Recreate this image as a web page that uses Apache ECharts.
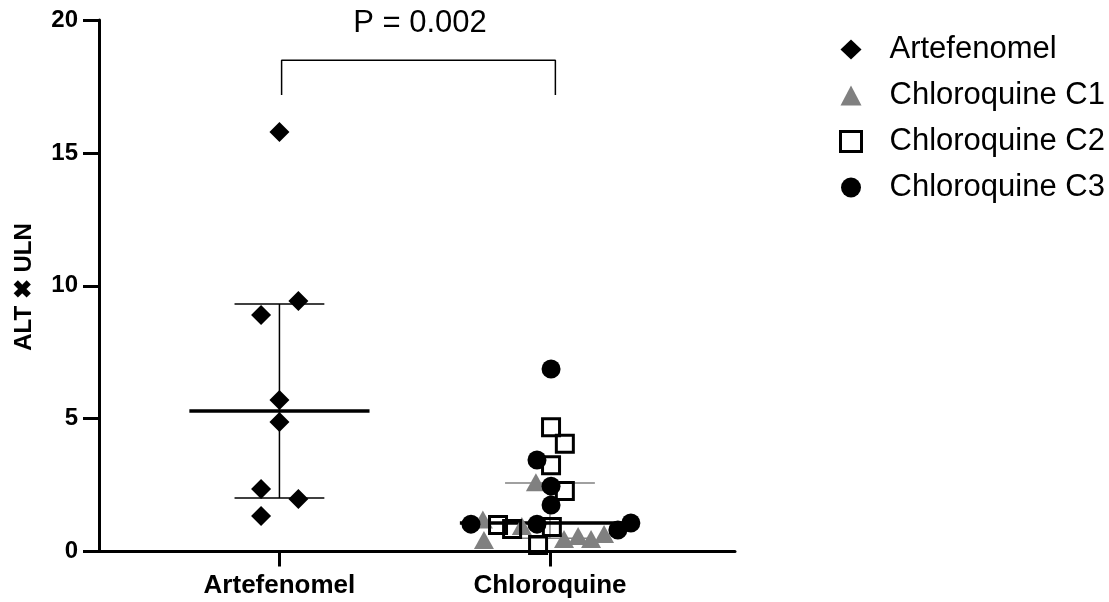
<!DOCTYPE html>
<html><head><meta charset="utf-8">
<script src="https://cdn.jsdelivr.net/npm/echarts@6/dist/echarts.min.js"></script>
<style>html,body{margin:0;padding:0;background:#fff}#c{width:1109px;height:602px}</style>
</head><body><div id="c"></div>
<script>
const categories = ['Artefenomel', 'Chloroquine'];
const seriesNames = ['Artefenomel', 'Chloroquine C1', 'Chloroquine C2', 'Chloroquine C3'];
const yTicks = [0, 5, 10, 15, 20];
// x offsets (jitter, in category units) and y values
const artefenomelX = [0, 0.07, -0.068, 0, 0, -0.068, 0.07, -0.068];
const artefenomelY = [15.79, 9.43, 8.90, 5.70, 4.87, 2.35, 1.98, 1.34];
const c1X = [-0.052, -0.248, -0.244, -0.104, 0.052, 0.104, 0.152, 0.2];
const c1Y = [2.61, 1.2, 0.43, 0.96, 0.47, 0.58, 0.47, 0.66];
const c2X = [0.004, 0.055, 0.004, 0.055, -0.192, -0.14, 0.007, -0.044];
const c2Y = [4.68, 4.05, 3.25, 2.28, 1.0, 0.85, 0.92, 0.24];
const c3X = [0.004, -0.048, 0.004, 0.004, -0.292, -0.048, 0.251, 0.299];
const c3Y = [6.87, 3.44, 2.46, 1.75, 1.03, 1.03, 0.81, 1.07];
const medians = [5.29, 1.07];
const lowerQ = [2.01, 0.5];
const upperQ = [9.31, 2.58];
const bracketLow = 17.18, bracketHigh = 18.49;
const pLabel = 'P = 0.002';

const FONT = '"Liberation Sans", Arial, sans-serif';
const chart = echarts.init(document.getElementById('c'), null, {renderer: 'canvas'});

function pts(center, xs, ys) { return ys.map((y, i) => [center + xs[i], y]); }
function seg(data, color, width) {
  return {type: 'line', data: data, symbol: 'none', silent: true, z: 1,
    lineStyle: {color: color, width: width}, animation: false};
}
const lineSeries = [];
const errColors = ['#000', '#808080'];
categories.forEach((c, i) => {
  const xc = i + 1;
  lineSeries.push(seg([[xc, lowerQ[i]], [xc, upperQ[i]]], errColors[i], 1.5));
  lineSeries.push(seg([[xc - 0.166, lowerQ[i]], [xc + 0.166, lowerQ[i]]], errColors[i], 1.5));
  lineSeries.push(seg([[xc - 0.166, upperQ[i]], [xc + 0.166, upperQ[i]]], errColors[i], 1.5));
  lineSeries.push(seg([[xc - 0.333, medians[i]], [xc + 0.333, medians[i]]], '#000', 3.5));
});
lineSeries.push(seg([[1.008, bracketLow], [1.008, bracketHigh], [2.02, bracketHigh], [2.02, bracketLow]], '#000', 1.5));

const scatter = [
  {name: seriesNames[0], type: 'scatter', data: pts(1, artefenomelX, artefenomelY), symbol: 'diamond', symbolSize: 20,
    itemStyle: {color: '#000', opacity: 1}, z: 5},
  {name: seriesNames[1], type: 'scatter', data: pts(2, c1X, c1Y), symbol: 'triangle', symbolSize: [20, 18],
    itemStyle: {color: '#808080', opacity: 1}, z: 5},
  {name: seriesNames[2], type: 'scatter', data: pts(2, c2X, c2Y), symbol: 'rect', symbolSize: 17,
    itemStyle: {color: 'rgba(0,0,0,0)', borderColor: '#000', borderWidth: 3, opacity: 1}, z: 5},
  {name: seriesNames[3], type: 'scatter', data: pts(2, c3X, c3Y), symbol: 'circle', symbolSize: 19,
    itemStyle: {color: '#000', opacity: 1}, z: 5}
];

chart.setOption({
  animation: false,
  backgroundColor: '#fff',
  grid: {left: 99, right: 374, top: 20, bottom: 50.5, containLabel: false},
  xAxis: {
    type: 'value', min: 0.333, max: 2.684, splitLine: {show: false},
    axisLine: {show: true, lineStyle: {color: '#000', width: 3}},
    axisTick: {show: true, customValues: [1, 2], length: 15, lineStyle: {color: '#000', width: 3}},
    axisLabel: {customValues: [1, 2], formatter: v => categories[Math.round(v) - 1], margin: 21,
      fontSize: 26, fontWeight: 'bold', color: '#000', fontFamily: FONT}
  },
  yAxis: {
    type: 'value', min: yTicks[0], max: yTicks[yTicks.length - 1], interval: 5, splitLine: {show: false},
    axisLine: {show: true, lineStyle: {color: '#000', width: 3}},
    axisTick: {show: true, length: 16, lineStyle: {color: '#000', width: 3}},
    axisLabel: {margin: 21, fontSize: 24, fontWeight: 'bold', color: '#000', fontFamily: FONT}
  },
  legend: {
    orient: 'vertical', left: 834, top: 29, itemGap: 15, itemWidth: 21, itemHeight: 20,
    data: [
      {name: seriesNames[0], itemStyle: {color: '#000'}},
      {name: seriesNames[1], itemStyle: {color: '#808080'}},
      {name: seriesNames[2], itemStyle: {color: 'rgba(0,0,0,0)', borderColor: '#000', borderWidth: 3}},
      {name: seriesNames[3], itemStyle: {color: '#000'}}
    ],
    textStyle: {fontSize: 31, color: '#000', fontFamily: FONT, padding: [0, 0, 0, 23]},
    selectedMode: false
  },
  graphic: [
    {type: 'text', x: 420, y: 23, style: {text: pLabel, fontSize: 31, fill: '#000', fontFamily: FONT,
      align: 'center', verticalAlign: 'middle'}},
    {type: 'text', x: 24, y: 287, rotation: Math.PI / 2, style: {text: 'ALT ✖ ULN', fontSize: 24, fontWeight: 'bold',
      fill: '#000', fontFamily: FONT, align: 'center', verticalAlign: 'middle'}}
  ],
  series: lineSeries.concat(scatter)
});
</script></body></html>
